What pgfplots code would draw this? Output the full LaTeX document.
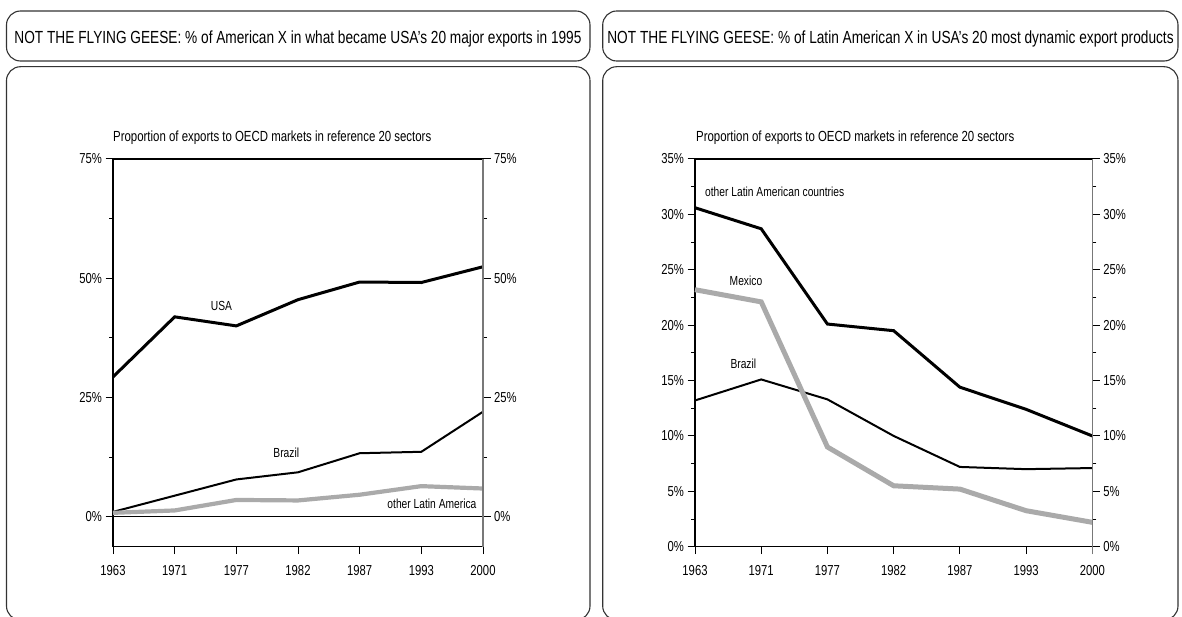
\documentclass[border=0pt]{standalone}
\usepackage{pgfplots}
\pgfplotsset{compat=1.18}
\usepackage{fontspec}
\setmainfont[FakeStretch=0.78]{Liberation Sans}
\definecolor{lgray}{RGB}{170,170,170}
\definecolor{agray}{RGB}{120,120,120}
\tikzset{lab/.style={font=\fontsize{13.2}{15}\selectfont}}
\begin{document}
\begin{tikzpicture}
\useasboundingbox (0bp,0bp) rectangle (1182bp,617bp);
\begin{scope}[x=1bp,y=1bp]
% boxes
\draw[rounded corners=14bp, line width=1.1bp, black!80] (6.5,606) rectangle (590,556);
\draw[rounded corners=14bp, line width=1.1bp, black!80] (6.5,550.3) rectangle (590,-3);
\draw[rounded corners=14bp, line width=1.1bp, black!80] (602.7,606) rectangle (1178,556);
\draw[rounded corners=14bp, line width=1.1bp, black!80] (602.7,550.3) rectangle (1178,-3);
% titles
\node[anchor=base, inner sep=0pt, font=\fontsize{17.6}{20}\selectfont] at (298,573.5) {NOT THE FLYING GEESE: \% of American X in what became USA's 20 major exports in 1995};
\node[anchor=base, inner sep=0pt, font=\fontsize{17.6}{20}\selectfont] at (890.5,573.5) {NOT THE FLYING GEESE: \% of Latin American X in USA's 20 most dynamic export products};
% subtitles
\node[anchor=base west, inner sep=0pt, font=\fontsize{14.7}{17}\selectfont] at (113,475.3) {Proportion of exports to OECD markets in reference 20 sectors};
\node[anchor=base west, inner sep=0pt, font=\fontsize{14.7}{17}\selectfont] at (696,475.3) {Proportion of exports to OECD markets in reference 20 sectors};
\end{scope}

\pgfplotsset{
  common/.style={
    scale only axis, width=370bp, height=387.7bp,
    xmin=0, xmax=6,
    tick align=outside,
    major tick length=7.5bp, minor tick length=4bp,
    tick style={black, line width=1bp},
    tick label style={font=\fontsize{14.5}{16}\selectfont},
    clip=false,
  },
}
% ---------- Left panel ----------
\begin{axis}[common, at={(113bp,70.3bp)}, anchor=south west,
  ymin=-6.3, ymax=75,
  axis x line*=bottom, axis y line*=left,
  axis line style={line width=1.2bp, black},
  xtick={0,...,6}, xticklabels={1963,1971,1977,1982,1987,1993,2000},
  xticklabel style={yshift=-8bp},
  ytick={0,25,50,75}, yticklabels={0\%,25\%,50\%,75\%},
  minor ytick={12.5,37.5,62.5},
]
\draw[line width=1.2bp] (rel axis cs:0,1) -- (rel axis cs:1,1);
\draw[line width=1.2bp] (axis cs:0,0) -- (axis cs:6,0);
\addplot[black, line width=3bp] coordinates {(0,29.3) (1,41.9) (2,40.0) (3,45.5) (4,49.2) (5,49.1) (6,52.4)};
\addplot[black, line width=2bp] coordinates {(0,1.0) (1,4.4) (2,7.8) (3,9.3) (4,13.3) (5,13.6) (6,22.0)};
\addplot[lgray, line width=4.2bp] coordinates {(0,0.8) (1,1.3) (2,3.5) (3,3.4) (4,4.6) (5,6.4) (6,5.9)};
\node[lab] at (axis cs:1.76,44.2) {USA};
\node[lab] at (axis cs:2.81,13.4) {Brazil};
\node[lab, anchor=east] at (axis cs:5.95,2.8) {other Latin America};
\end{axis}
\begin{axis}[common, at={(113bp,70.3bp)}, anchor=south west,
  ymin=-6.3, ymax=75,
  axis x line=none, axis y line*=right,
  axis line style={line width=1.4bp, agray},
  xtick=\empty,
  ytick={0,25,50,75}, yticklabels={0\%,25\%,50\%,75\%},
  minor ytick={12.5,37.5,62.5},
]
\addplot[draw=none] coordinates {(0,0) (6,0)};
\draw[agray, line width=1.4bp] (rel axis cs:1,0) -- ++(0,-7.5bp);
\end{axis}
% ---------- Right panel ----------
\begin{axis}[common, width=397.3bp, at={(695bp,70.3bp)}, anchor=south west,
  ymin=0, ymax=35,
  axis x line*=bottom, axis y line*=left,
  axis line style={line width=1.2bp, black},
  xtick={0,...,6}, xticklabels={1963,1971,1977,1982,1987,1993,2000},
  xticklabel style={yshift=-8bp},
  ytick={0,5,...,35}, yticklabels={0\%,5\%,10\%,15\%,20\%,25\%,30\%,35\%},
  minor ytick={2.5,7.5,...,32.5},
]
\draw[line width=1.2bp] (rel axis cs:0,1) -- (rel axis cs:1,1);
\addplot[black, line width=3bp] coordinates {(0,30.6) (1,28.7) (2,20.1) (3,19.5) (4,14.4) (5,12.4) (6,10.0)};
\addplot[black, line width=2bp] coordinates {(0,13.2) (1,15.1) (2,13.3) (3,10.0) (4,7.2) (5,7.0) (6,7.1)};
\addplot[lgray, line width=5bp] coordinates {(0,23.2) (1,22.1) (2,9.0) (3,5.5) (4,5.2) (5,3.25) (6,2.2)};
\node[lab, anchor=west] at (axis cs:0.1,32.0) {other Latin American countries};
\node[lab] at (axis cs:0.77,24.0) {Mexico};
\node[lab] at (axis cs:0.73,16.55) {Brazil};
\end{axis}
\begin{axis}[common, width=397.3bp, at={(695bp,70.3bp)}, anchor=south west,
  ymin=0, ymax=35,
  axis x line=none, axis y line*=right,
  axis line style={line width=1.4bp, agray},
  xtick=\empty,
  ytick={0,5,...,35}, yticklabels={0\%,5\%,10\%,15\%,20\%,25\%,30\%,35\%},
  minor ytick={2.5,7.5,...,32.5},
]
\addplot[draw=none] coordinates {(0,0) (6,0)};
\draw[agray, line width=1.4bp] (rel axis cs:1,0) -- ++(0,-7.5bp);
\end{axis}
\end{tikzpicture}
\end{document}
